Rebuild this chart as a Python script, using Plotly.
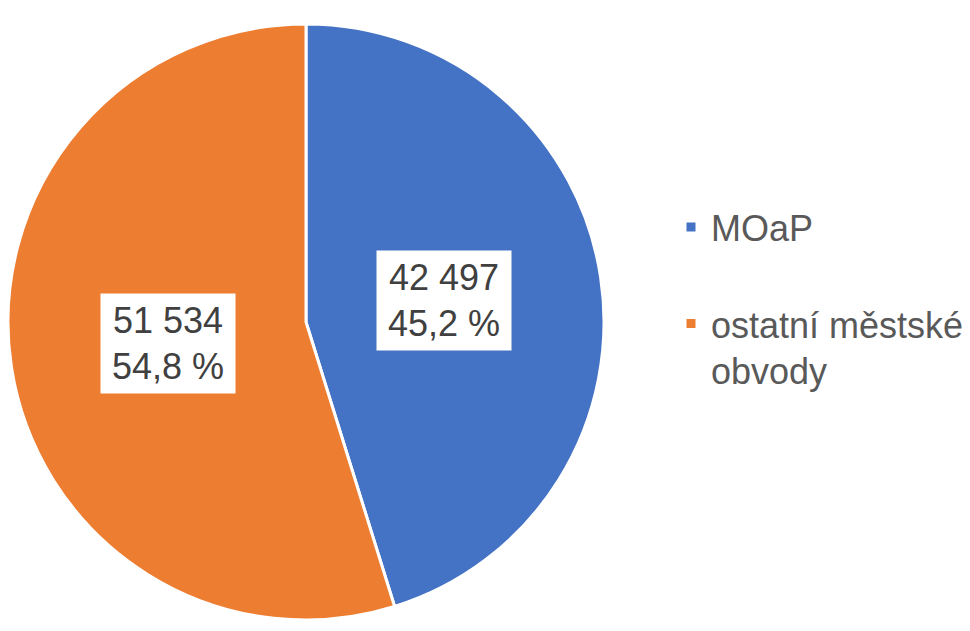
import math
import plotly.graph_objects as go

# data
labels = ["MOaP", "ostatní městské<br>obvody"]
values = [42497, 51534]
colors = ["#4472C4", "#ED7D31"]

W, H = 970, 631
OFF = 8                              # default body margin of the html page
cx, cy, r = 306 - OFF, 322 - OFF, 298   # pie centre / radius in figure pixels


def fmt_int(v):
    return f"{v:,}".replace(",", " ")


def fmt_pct(p):
    return f"{p:.1f}".replace(".", ",") + " %"


# extra blank line after the first entry to open up the legend spacing
legend_labels = [labels[0] + "<br> "] + labels[1:]

fig = go.Figure(go.Pie(
    labels=legend_labels,
    values=values,
    sort=False,
    direction="clockwise",
    rotation=0,
    marker=dict(colors=colors, line=dict(color="white", width=3)),
    textinfo="none",
    hoverinfo="value+percent",
    domain=dict(x=[max(0, (cx - r) / W), (cx + r) / W],
                y=[1 - (cy + r) / H, 1 - (cy - r) / H]),
))

# data labels in white boxes, placed at each slice's mid angle
total = sum(values)
start = 0.0
annotations = []
for v in values:
    frac = v / total
    mid = (start + frac / 2) * 2 * math.pi
    start += frac
    lx = cx + 0.47 * r * math.sin(mid)
    ly = cy - 0.47 * r * math.cos(mid)
    annotations.append(dict(
        x=lx / W, y=1 - ly / H, xref="paper", yref="paper",
        xanchor="center", yanchor="middle",
        text=f"{fmt_int(v)}<br>{fmt_pct(frac * 100)}",
        showarrow=False, align="center",
        font=dict(family="Liberation Sans, Arial", size=36, color="#404040"),
        bgcolor="white", width=134, height=99, borderpad=0,
    ))

fig.update_layout(
    width=W, height=H,
    margin=dict(l=0, r=0, t=0, b=0),
    paper_bgcolor="white",
    plot_bgcolor="white",
    annotations=annotations,
    showlegend=True,
    legend=dict(
        x=(671 - OFF) / W, y=1 - (197 - OFF) / H,
        xanchor="left", yanchor="top",
        font=dict(family="Liberation Sans, Arial", size=36, color="#595959"),
        valign="top",
    ),
)

fig.write_html("out.html")
